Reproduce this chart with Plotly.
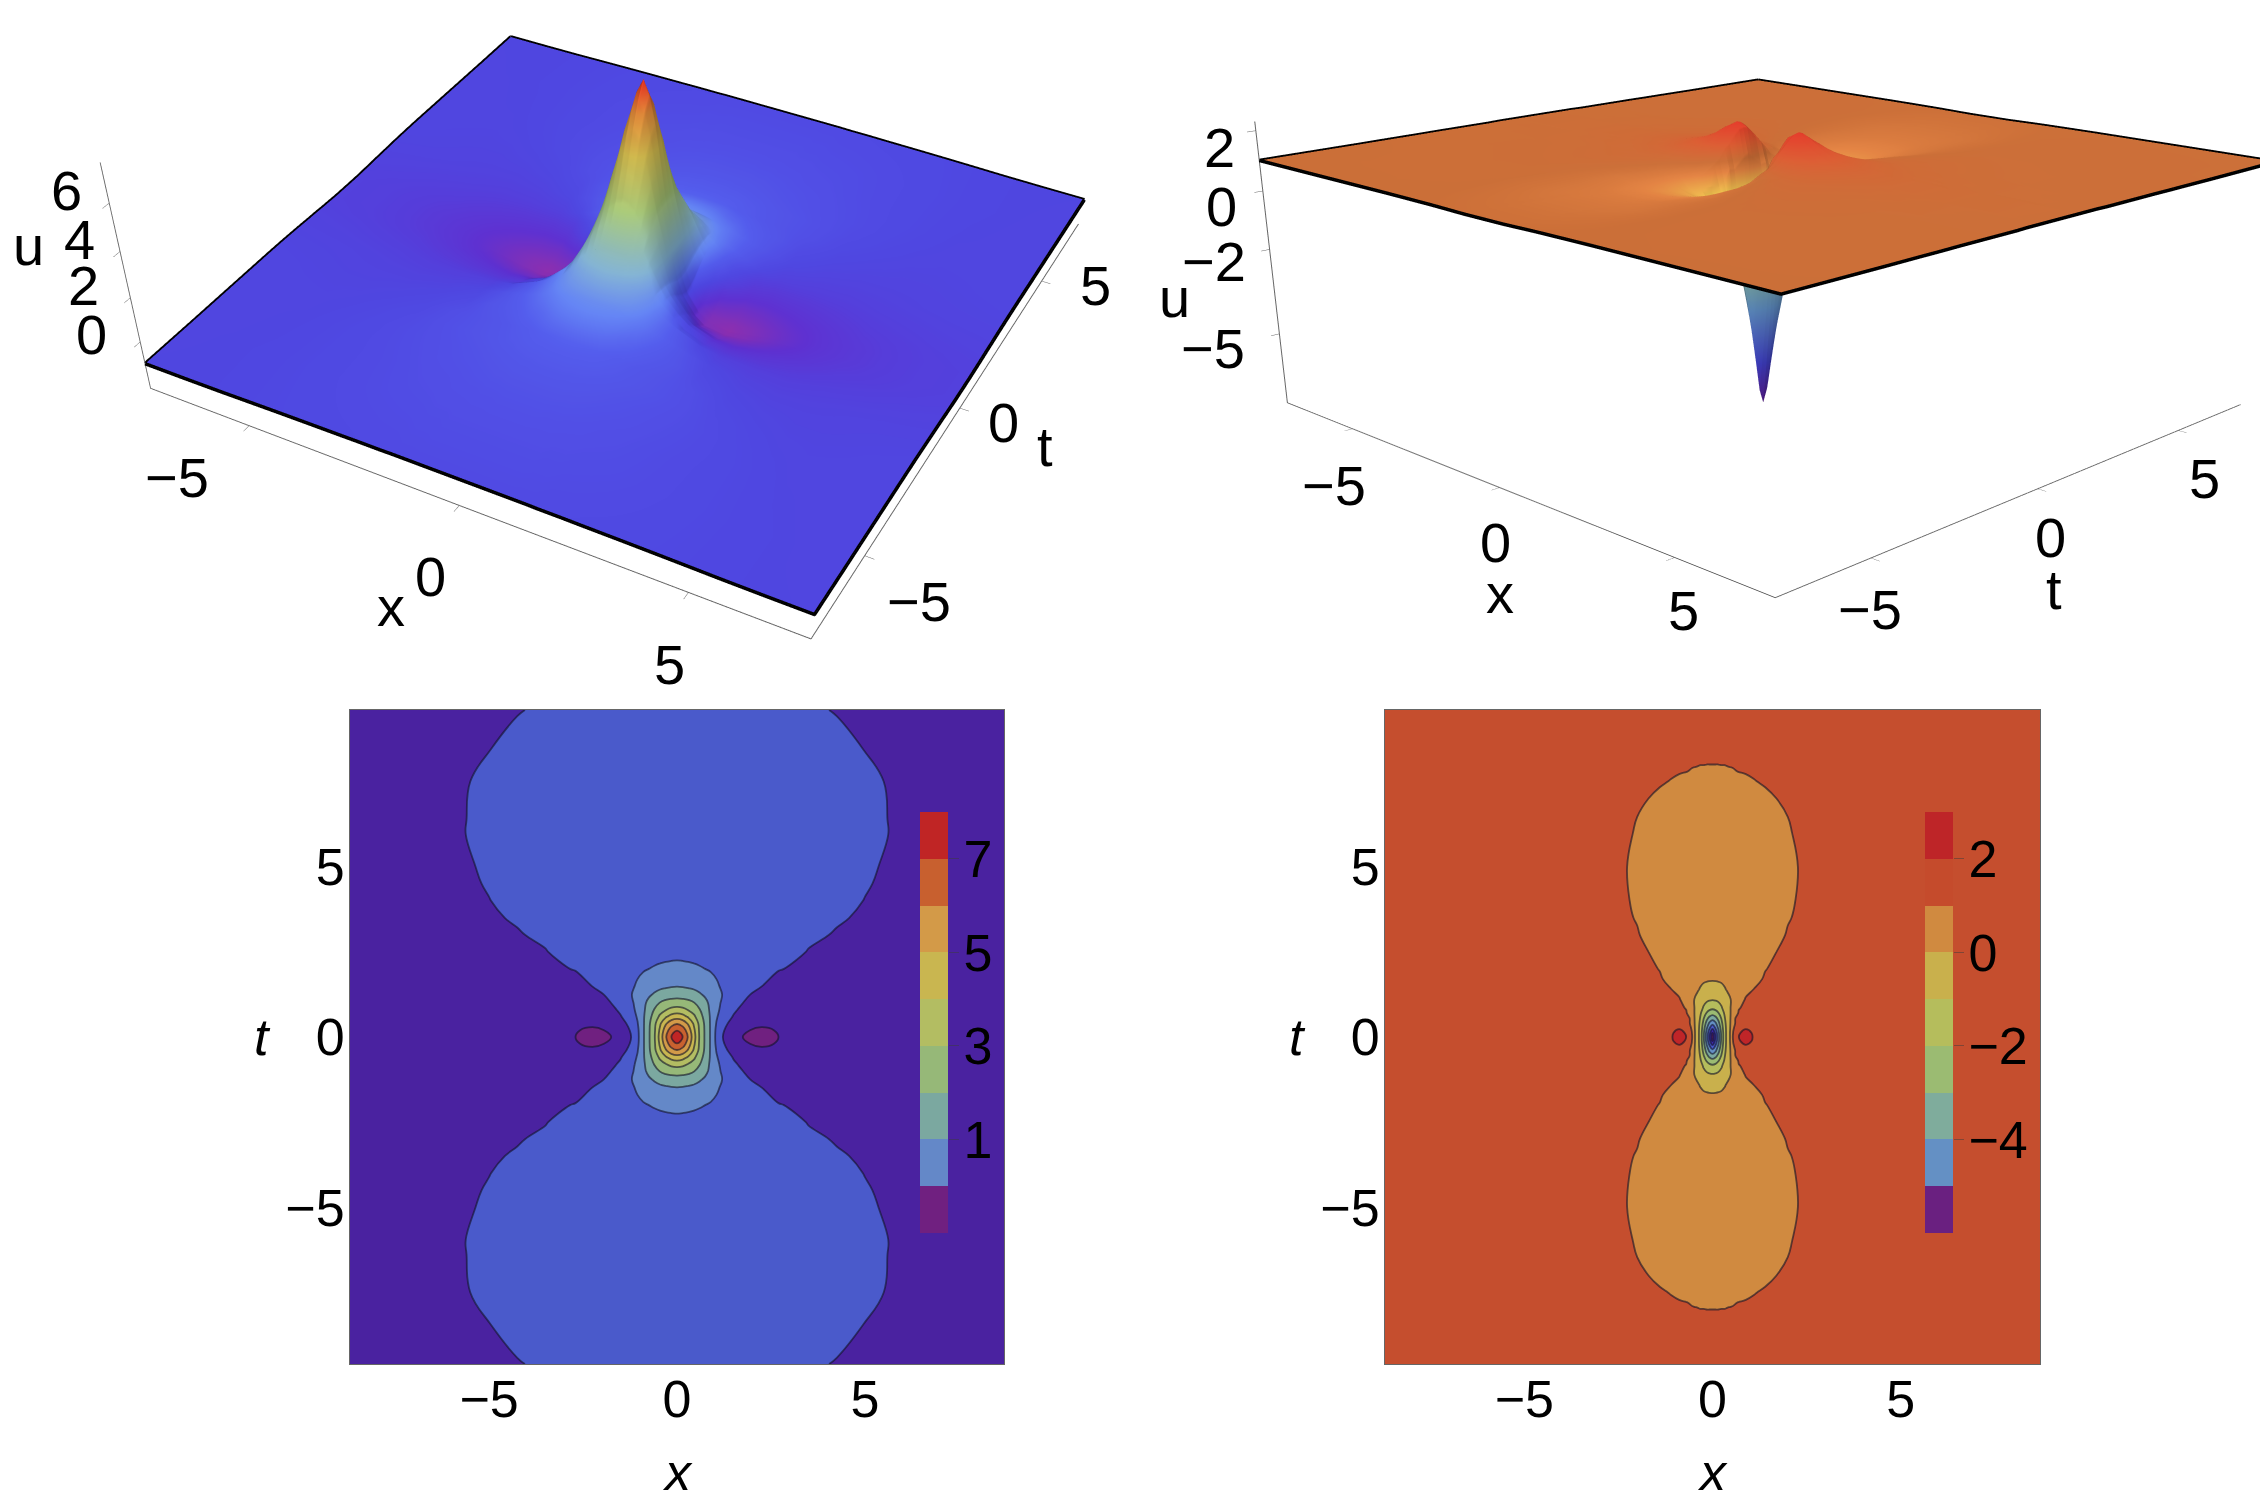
#!/usr/bin/env python3
"""Two 3D surfaces of u(x, t) with their contour plots underneath."""

import numpy as np
import plotly.graph_objects as go

FONT_ = "Liberation Sans"
W_, H_ = 2268, 1510
PAGE_MARGIN_ = 8  # the browser puts 8px of body margin round the plot

### Values, quadrant x >= 0, t >= 0 (rows = t, columns = x)
### -----------------------------------------------------------------------------------
X_LEFT = [0, .15, .3, .45, .6, .75, .9, 1.05, 1.2, 1.5, 1.75, 2.25, 2.7, 3.5, 4.25, 5, 5.6, 6.5, 7.5, 8.7]
T_LEFT = [0, .2, .4, .6, .8, 1, 1.25, 1.5, 2, 2.5, 3, 3.5, 4, 4.5, 5, 6, 7.5, 8.5, 9.6]
U_LEFT = [
    [7.6, 7.0, 5.9, 4.4, 2.9, 1.85, .85, -.25, -.95, -1.7, -2.0, -2.15, -2.0, -1.7, -1.48, -1.35, -1.27, -1.19, -1.15, -1.12],
    [6.95, 6.5, 5.55, 4.2, 2.85, 1.85, .85, -.2, -.85, -1.6, -1.95, -2.08, -1.97, -1.68, -1.47, -1.35, -1.27, -1.19, -1.15, -1.12],
    [5.9, 5.6, 4.85, 3.85, 2.75, 1.8, .85, -.05, -.65, -1.35, -1.75, -1.9, -1.85, -1.62, -1.45, -1.33, -1.26, -1.19, -1.15, -1.12],
    [4.55, 4.35, 3.85, 3.2, 2.4, 1.65, .85, .1, -.4, -1.05, -1.5, -1.75, -1.72, -1.55, -1.42, -1.3, -1.25, -1.18, -1.14, -1.11],
    [3.35, 3.25, 2.95, 2.55, 2.05, 1.45, .8, .2, -.2, -.85, -1.2, -1.55, -1.58, -1.47, -1.37, -1.27, -1.23, -1.17, -1.13, -1.1],
    [2.5, 2.45, 2.3, 2.05, 1.7, 1.25, .75, .25, -.1, -.65, -.995, -1.38, -1.45, -1.4, -1.32, -1.24, -1.2, -1.15, -1.12, -1.09],
    [1.55, 1.52, 1.45, 1.3, 1.1, .85, .55, .2, 0, -.5, -.85, -1.22, -1.3, -1.3, -1.26, -1.2, -1.17, -1.13, -1.1, -1.08],
    [.95, .92, .85, .78, .65, .5, .3, .1, -.1, -.38, -.6, -.99, -1.15, -1.2, -1.2, -1.16, -1.14, -1.11, -1.09, -1.07],
    [.15, .14, .12, .09, .05, 0, -.07, -.15, -.22, -.4, -.53, -.78, -.98, -1.09, -1.12, -1.11, -1.09, -1.07, -1.06, -1.05],
    [-.15, -.16, -.17, -.19, -.22, -.27, -.33, -.38, -.42, -.53, -.6, -.72, -.9, -1.01, -1.06, -1.07, -1.07, -1.05, -1.04, -1.03],
    [-.45, -.45, -.46, -.47, -.48, -.5, -.53, -.56, -.58, -.64, -.68, -.75, -.82, -.96, -1.015, -1.05, -1.05, -1.04, -1.03, -1.02],
    [-.57, -.57, -.57, -.58, -.58, -.59, -.6, -.62, -.63, -.67, -.7, -.75, -.81, -.92, -.98, -1.025, -1.04, -1.035, -1.03, -1.02],
    [-.65, -.65, -.65, -.66, -.66, -.67, -.68, -.69, -.7, -.73, -.75, -.79, -.83, -.9, -.96, -1.003, -1.03, -1.035, -1.03, -1.02],
    [-.72, -.72, -.72, -.72, -.72, -.73, -.73, -.74, -.75, -.77, -.78, -.81, -.85, -.905, -.95, -.99, -1.02, -1.03, -1.03, -1.02],
    [-.77, -.77, -.77, -.77, -.78, -.78, -.78, -.79, -.79, -.8, -.82, -.84, -.87, -.915, -.95, -.985, -1.01, -1.03, -1.03, -1.02],
    [-.85, -.85, -.85, -.85, -.85, -.85, -.85, -.85, -.86, -.86, -.87, -.88, -.89, -.92, -.95, -.98, -.999, -1.02, -1.03, -1.02],
    [-.92, -.92, -.92, -.92, -.92, -.92, -.92, -.92, -.92, -.92, -.93, -.93, -.94, -.95, -.965, -.985, -1.003, -1.015, -1.02, -1.02],
    [-.95, -.95, -.95, -.95, -.95, -.95, -.95, -.95, -.95, -.95, -.95, -.955, -.96, -.97, -.985, -1.002, -1.01, -1.02, -1.02, -1.02],
    [-.975, -.975, -.975, -.975, -.975, -.975, -.975, -.975, -.975, -.975, -.975, -.98, -.985, -.992, -1.003, -1.015, -1.02, -1.02, -1.02, -1.02],
]

X_RIGHT = [0, .08, .16, .24, .32, .4, .48, .55, .7, .885, 1.1, 1.4, 1.7, 2, 2.3, 2.6, 3, 4, 5.5, 7.5, 8.7]
T_RIGHT = [0, .12, .25, .4, .55, .7, .85, 1.1, 1.4, 1.7, 2, 2.5, 3, 3.5, 4, 5, 6, 7, 7.5, 7.8, 8.2, 9.6]
U_RIGHT = [
    [-7.5, -6.0, -4.4, -2.8, -1.4, -.6, .15, 1.15, 2.0, 2.15, 1.97, 1.7, 1.52, 1.4, 1.3, 1.24, 1.18, 1.1, 1.06, 1.04, 1.03],
    [-7.0, -5.7, -4.25, -2.75, -1.4, -.6, .15, 1.05, 1.97, 2.1, 1.96, 1.7, 1.52, 1.4, 1.3, 1.24, 1.18, 1.1, 1.06, 1.04, 1.03],
    [-5.9, -5.0, -3.85, -2.55, -1.35, -.6, .1, .9, 1.8, 1.98, 1.87, 1.65, 1.5, 1.38, 1.29, 1.23, 1.18, 1.1, 1.06, 1.04, 1.03],
    [-4.7, -4.2, -3.3, -2.25, -1.25, -.55, .05, .72, 1.55, 1.8, 1.75, 1.6, 1.47, 1.35, 1.27, 1.22, 1.17, 1.1, 1.06, 1.04, 1.03],
    [-3.6, -3.3, -2.7, -1.9, -1.1, -.45, .02, .75, 1.4, 1.6, 1.6, 1.5, 1.42, 1.32, 1.25, 1.2, 1.16, 1.09, 1.06, 1.04, 1.03],
    [-2.65, -2.45, -2.05, -1.5, -.9, -.35, 0, .35, 1.1, 1.35, 1.45, 1.42, 1.37, 1.29, 1.23, 1.19, 1.15, 1.09, 1.05, 1.04, 1.03],
    [-1.8, -1.7, -1.45, -1.1, -.65, -.25, 0, .25, .95, 1.18, 1.3, 1.33, 1.31, 1.26, 1.21, 1.18, 1.14, 1.08, 1.05, 1.04, 1.03],
    [-.95, -.9, -.8, -.65, -.45, -.2, -.02, .3, .75, 1.05, 1.15, 1.2, 1.22, 1.2, 1.18, 1.15, 1.12, 1.08, 1.05, 1.04, 1.03],
    [-.35, -.33, -.28, -.2, -.06, .08, .2, .3, .55, .85, 1.005, 1.08, 1.13, 1.14, 1.14, 1.12, 1.1, 1.07, 1.05, 1.03, 1.03],
    [.07, .08, .1, .13, .17, .22, .27, .33, .48, .72, .92, 1.03, 1.09, 1.11, 1.11, 1.1, 1.09, 1.06, 1.05, 1.03, 1.03],
    [.3, .3, .31, .33, .35, .38, .42, .45, .55, .69, .85, .99, 1.05, 1.08, 1.09, 1.09, 1.08, 1.06, 1.04, 1.03, 1.03],
    [.48, .48, .49, .5, .51, .53, .55, .58, .63, .71, .82, .93, 1.0, 1.045, 1.065, 1.07, 1.07, 1.055, 1.04, 1.03, 1.02],
    [.62, .62, .62, .63, .63, .64, .65, .66, .69, .74, .79, .87, .96, 1.012, 1.04, 1.055, 1.06, 1.05, 1.04, 1.03, 1.02],
    [.71, .71, .71, .71, .72, .72, .73, .73, .75, .79, .83, .88, .94, .99, 1.02, 1.04, 1.05, 1.045, 1.035, 1.025, 1.02],
    [.78, .78, .78, .78, .78, .79, .79, .8, .81, .83, .86, .9, .94, .98, 1.01, 1.03, 1.04, 1.04, 1.03, 1.025, 1.02],
    [.87, .87, .87, .87, .87, .87, .87, .87, .88, .88, .89, .91, .94, .975, 1.003, 1.02, 1.03, 1.03, 1.03, 1.02, 1.02],
    [.92, .92, .92, .92, .92, .92, .92, .92, .93, .93, .94, .955, .975, .994, 1.01, 1.02, 1.025, 1.03, 1.03, 1.02, 1.02],
    [.97, .97, .97, .97, .97, .97, .97, .97, .97, .975, .98, .99, 1.0, 1.007, 1.012, 1.016, 1.02, 1.025, 1.02, 1.02, 1.02],
    [.985, .985, .985, .985, .985, .985, .985, .985, .988, .992, .998, 1.005, 1.01, 1.012, 1.015, 1.017, 1.02, 1.02, 1.02, 1.02, 1.02],
    [.994, .994, .994, .995, .995, .996, .997, .998, 1.001, 1.003, 1.006, 1.01, 1.012, 1.014, 1.016, 1.018, 1.02, 1.02, 1.02, 1.02, 1.02],
    [1.006, 1.006, 1.006, 1.006, 1.006, 1.007, 1.007, 1.007, 1.008, 1.009, 1.01, 1.012, 1.015, 1.016, 1.018, 1.019, 1.02, 1.02, 1.02, 1.02, 1.02],
    [1.02, 1.02, 1.02, 1.02, 1.02, 1.02, 1.02, 1.02, 1.02, 1.02, 1.02, 1.02, 1.02, 1.02, 1.02, 1.02, 1.02, 1.02, 1.02, 1.02, 1.02],
]

### Contour levels and fill colours (lowest band first)
LEVELS_LEFT = [-2, 7]
LEVELS_RIGHT = [-7, 2]
BANDS_LEFT = ["#702080", "#4a22a0", "#4a5acb", "#6488c8", "#7ba8a0", "#96b878",
              "#b3bd62", "#c9b650", "#d39a48", "#c9612f", "#c02525"]
BANDS_RIGHT = ["#702080", "#3c2aa8", "#4a5acb", "#6490c4", "#7ba8a0", "#9bbb72",
               "#b5bd5c", "#c9b04c", "#d08a40", "#c54e2e", "#c02528"]

### Legend bars
BAR_LEFT = ["#702080", "#6488c8", "#7ba8a0", "#96b878", "#b3bd62", "#c9b650", "#d39a48", "#c8602f", "#c02525"]
BAR_RIGHT = ["#6a2080", "#6490c4", "#7fac9c", "#9bbb72", "#b5bd5c", "#c9b04c", "#d08a40", "#c54b2c", "#be2528"]
BAR_EDGES_LEFT = [-1, 0, 1, 2, 3, 4, 5, 6, 7, 8]
BAR_EDGES_RIGHT = [-6, -5, -4, -3, -2, -1, 0, 1, 2, 3]
BAR_TICKS_LEFT = [1, 3, 5, 7]
BAR_TICKS_RIGHT = [-4, -2, 0, 2]

### Surface colours
SURF_LEFT = [[0, "#8a2aa8"], [.061, "#5a2ccc"], [.122, "#4a42dc"], [.173, "#4f58e8"], [.224, "#6080f0"],
             [.327, "#80b0d0"], [.53, "#a8c878"], [.735, "#d8c050"], [.888, "#e08838"], [1, "#e83020"]]
SURF_RIGHT = [[0, "#5a1a90"], [.157, "#4040c8"], [.36, "#6090c8"], [.51, "#88b8a0"], [.66, "#b0c070"],
              [.766, "#f0c850"], [.837, "#e08040"], [.87, "#c86c35"], [.919, "#d85a30"], [.985, "#e03a28"],
              [1, "#e03020"]]

### 3D ticks: value, pixel shift of the label from its tick
XTICKS_3D_LEFT = [(-5, -72, 52), (0, -29, 71), (5, -19, 72)]
TTICKS_3D_LEFT = [(-5, 54, 46), (0, 44, 14), (5, 54, 4)]
UTICKS_3D_LEFT = [(0, -49, -7), (2, -47, -12), (4, -41, -12), (6, -43, -13)]
XTICKS_3D_RIGHT = [(-5, -19, 57), (0, -4, 55), (5, 9, 53)]
TTICKS_3D_RIGHT = [(-5, -1, 52), (0, 13, 49), (5, 26, 48)]
UTICKS_3D_RIGHT = [(-5, -66, 15), (-2, -56, 12), (0, -41, 16), (2, -36, 17)]


def mirror(xs, ts, u):
    """The panels are symmetric in x and t, so unfold the quadrant to the full plane."""
    xs, ts, u = np.array(xs, float), np.array(ts, float), np.array(u, float)
    xx = np.concatenate([-xs[:0:-1], xs])
    tt = np.concatenate([-ts[:0:-1], ts])
    uu = np.hstack([u[:, :0:-1], u])
    uu = np.vstack([uu[:0:-1, :], uu])
    return xx, tt, uu


def make_surface(xx, tt, uu, scene, cmin, cmax, scale, ambient, diffuse, light):
    """Surface clipped to the 3D plot box, plus the black outline on its edge."""
    ix = np.abs(xx) <= 7.5
    it = np.abs(tt) <= 7.5
    x, t, z = xx[ix], tt[it], uu[it][:, ix]
    surf = go.Surface(
        x=x, y=t, z=z, scene=scene, cmin=cmin, cmax=cmax, colorscale=scale, showscale=False,
        hoverinfo="skip",
        lighting=dict(ambient=ambient, diffuse=diffuse, specular=.03, roughness=.7, fresnel=0),
        lightposition=dict(x=light[0], y=light[1], z=light[2]),
    )
    ex = np.concatenate([x, np.full(len(t), x[-1]), x[::-1], np.full(len(t), x[0])])
    ey = np.concatenate([np.full(len(x), t[0]), t, np.full(len(x), t[-1]), t[::-1]])
    ez = np.concatenate([z[0, :], z[:, -1], z[-1, ::-1], z[::-1, 0]])
    edge = go.Scatter3d(x=ex, y=ey, z=ez, mode="lines", scene=scene, showlegend=False,
                        hoverinfo="skip", line=dict(color="black", width=7))
    return [surf, edge]


def make_contour(xx, tt, uu, levels, bands, xa, ya):
    n = len(bands) - 1
    return go.Contour(
        x=xx, y=tt, z=uu, xaxis=xa, yaxis=ya, showscale=False, hoverinfo="skip",
        autocontour=False,
        contours=dict(start=levels[0], end=levels[1], size=1, coloring="fill"),
        colorscale=[[i / n, c] for i, c in enumerate(bands)],
        line=dict(color="rgba(20,20,40,0.62)", width=1.8, smoothing=1.2),
    )


def make_bar(edges, colors, xa, ya):
    n = len(colors) - 1
    return go.Heatmap(
        x=[0, 1], y=edges, z=[[i] for i in range(len(colors))], xaxis=xa, yaxis=ya, showscale=False,
        hoverinfo="skip", zmin=0, zmax=n,
        colorscale=[[i / n, c] for i, c in enumerate(colors)],
    )


def scene_axis(ticks, rng):
    return dict(
        title=dict(text=""), tickvals=ticks, range=rng, showticklabels=False,
        showbackground=False, showgrid=False, zeroline=False, showspikes=False,
        showline=True, linecolor="#666666", linewidth=2, ticks="outside", ticklen=8, tickcolor="#666666",
    )


def scene_label(x, y, z, text, dx, dy, size=56):
    return dict(x=x, y=y, z=z, text=text, showarrow=False, xshift=dx, yshift=-dy,
                xanchor="center", yanchor="middle", font=dict(family=FONT_, size=size, color="black"))


def scene_labels(xticks, tticks, uticks, zmin, titles):
    """Upright tick labels, anchored on the axis edges of the 3D box."""
    labels = []
    for v, dx, dy in xticks:
        labels.append(scene_label(v, -7.5, zmin, str(v).replace("-", "\u2212"), dx, dy))
    for v, dx, dy in tticks:
        labels.append(scene_label(7.5, v, zmin, str(v).replace("-", "\u2212"), dx, dy))
    for v, dx, dy in uticks:
        labels.append(scene_label(-7.5, -7.5, v, str(v).replace("-", "\u2212"), dx, dy))
    labels.append(scene_label(0, -7.5, zmin, "x", *titles[0]))
    labels.append(scene_label(7.5, 0, zmin, "t", *titles[1]))
    labels.append(scene_label(-7.5, -7.5, titles[2][0], "u", *titles[2][1:]))
    return labels


def panel_axes(fig, n, left, right):
    top, bottom = 710 - PAGE_MARGIN_, 1364 - PAGE_MARGIN_
    left, right = left - PAGE_MARGIN_, right - PAGE_MARGIN_
    base = dict(showgrid=False, zeroline=False, showline=True, mirror=True, linecolor="#666666",
                linewidth=1, ticks="", tickfont=dict(family=FONT_, size=52, color="black"))
    fig.update_layout({
        f"xaxis{n}": dict(base, domain=[left / W_, right / W_], range=[-8.7, 8.7], anchor=f"y{n}",
                          tickvals=[-5, 0, 5], ticklabelstandoff=-10),
        f"yaxis{n}": dict(base, domain=[1 - bottom / H_, 1 - top / H_], range=[-9.6, 9.6], anchor=f"x{n}",
                          tickvals=[-5, 0, 5], ticklabelstandoff=-6),
    })
    mid = (left + right) / 2
    for text, px, py in [("<i>x</i>", mid, 1472 - PAGE_MARGIN_), ("<i>t</i>", left - 88, 1037 - PAGE_MARGIN_)]:
        fig.add_annotation(text=text, x=px / W_, y=1 - py / H_, xref="paper", yref="paper", showarrow=False,
                           xanchor="center", yanchor="middle", font=dict(family=FONT_, size=52, color="black"))


def bar_axes(fig, n, left, right, edges, ticks):
    left, right = left - PAGE_MARGIN_, right - PAGE_MARGIN_
    fig.update_layout({
        f"xaxis{n}": dict(domain=[left / W_, right / W_], range=[0, 1], visible=False, anchor=f"y{n}"),
        f"yaxis{n}": dict(domain=[1 - (1233 - PAGE_MARGIN_) / H_, 1 - (812 - PAGE_MARGIN_) / H_],
                          range=[edges[0], edges[-1]], anchor=f"x{n}",
                          side="right", tickvals=ticks, ticks="outside", ticklen=10, tickcolor="rgba(60,60,60,.5)",
                          showgrid=False, zeroline=False, showline=False, ticklabelstandoff=-6,
                          tickfont=dict(family=FONT_, size=52, color="black")),
    })


def main():
    xl, tl, ul = mirror(X_LEFT, T_LEFT, U_LEFT)
    xr, tr, ur = mirror(X_RIGHT, T_RIGHT, U_RIGHT)

    fig = go.Figure()
    fig.add_traces(make_contour(xl, tl, ul, LEVELS_LEFT, BANDS_LEFT, "x", "y"))
    fig.add_traces(make_contour(xr, tr, ur, LEVELS_RIGHT, BANDS_RIGHT, "x2", "y2"))
    fig.add_traces(make_bar(BAR_EDGES_LEFT, BAR_LEFT, "x3", "y3"))
    fig.add_traces(make_bar(BAR_EDGES_RIGHT, BAR_RIGHT, "x4", "y4"))
    fig.add_traces(make_surface(xl, tl, ul, "scene", -2.2, 7.6, SURF_LEFT, .55, .65, (-6000, -2000, 7500)))
    fig.add_traces(make_surface(xr, tr, ur, "scene2", -7.55, 2.3, SURF_RIGHT, .7, .45, (2000, -6000, 7500)))

    panel_axes(fig, "", 350, 1004)
    panel_axes(fig, 2, 1385, 2040)
    bar_axes(fig, 3, 920, 948, BAR_EDGES_LEFT, BAR_TICKS_LEFT)
    bar_axes(fig, 4, 1925, 1953, BAR_EDGES_RIGHT, BAR_TICKS_RIGHT)

    fig.update_layout(
        width=W_, height=H_, margin=dict(l=0, r=0, t=0, b=0), showlegend=False,
        paper_bgcolor="white", plot_bgcolor="white",
        scene=dict(
            domain=dict(x=[0, .5], y=[0, 1]),
            xaxis=scene_axis([-5, 0, 5], [-7.5, 7.5]),
            yaxis=scene_axis([-5, 0, 5], [-7.5, 7.5]),
            zaxis=scene_axis([0, 2, 4, 6], [-2.2, 7.6]),
            aspectmode="manual", aspectratio=dict(x=1, y=1, z=.35),
            bgcolor="rgba(0,0,0,0)",
            camera=dict(eye=dict(x=.99, y=-1.99, z=1.43), center=dict(x=.161, y=-.48, z=-.626),
                        up=dict(x=0, y=0, z=1)),
            annotations=scene_labels(XTICKS_3D_LEFT, TTICKS_3D_LEFT, UTICKS_3D_LEFT, -2.2,
                                     [(-68, 101), (85, 38), (4, -92, -6)]),
        ),
        scene2=dict(
            domain=dict(x=[.5, 1], y=[0, 1]),
            xaxis=scene_axis([-5, 0, 5], [-7.5, 7.5]),
            yaxis=scene_axis([-5, 0, 5], [-7.5, 7.5]),
            zaxis=scene_axis([-5, -2, 0, 2], [-7.55, 2.3]),
            aspectmode="manual", aspectratio=dict(x=1, y=1, z=.40),
            bgcolor="rgba(0,0,0,0)",
            camera=dict(eye=dict(x=1.81, y=-1.90, z=.65), center=dict(x=.082, y=-.194, z=-.702),
                        up=dict(x=0, y=0, z=1)),
            annotations=scene_labels(XTICKS_3D_RIGHT, TTICKS_3D_RIGHT, UTICKS_3D_RIGHT, -7.55,
                                     [(0, 106), (16, 101), (-2, -95, 48)]),
        ),
    )

    fig.write_html("out.html")


if __name__ == "__main__":
    main()
